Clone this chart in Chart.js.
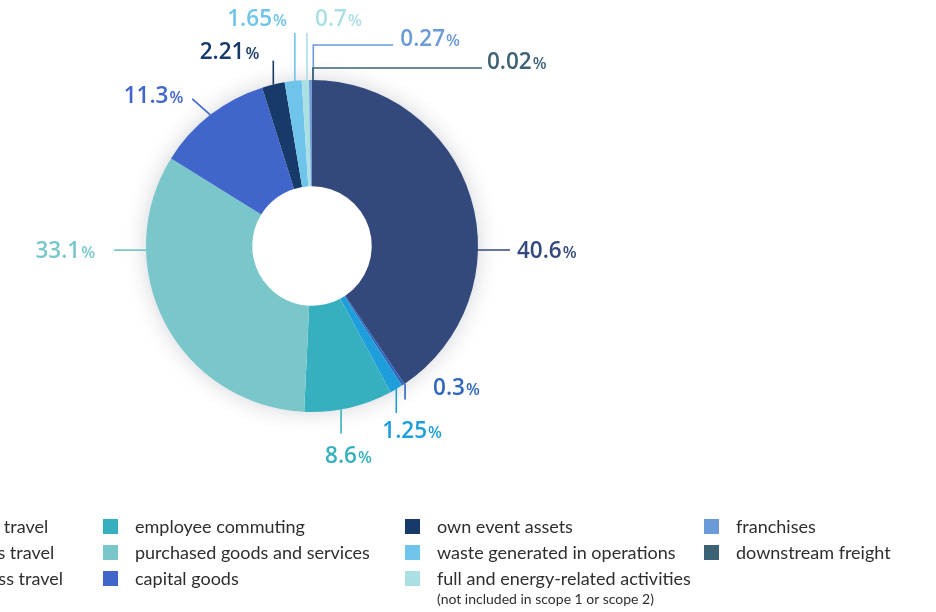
<!DOCTYPE html>
<html>
<head>
<meta charset="utf-8">
<script src="https://cdn.jsdelivr.net/npm/chart.js@4"></script>
<style>
  html, body { margin: 0; padding: 0; background: #fff; overflow: hidden; }
  #wrap { position: relative; width: 936px; height: 612px; }
  #chart { position: absolute; left: 0; top: 0; }
  #legend {
    position: absolute; left: -201px; top: 513px;
    display: grid; grid-auto-flow: column;
    grid-template-rows: 26px 26px 26px;
    grid-template-columns: 304px 302px 299px 220px;
    font-family: Lato, sans-serif; font-size: 18px; color: #2e2e2e;
  }
  .item { display: flex; align-items: center; height: 26px; white-space: nowrap; }
  .box { width: 15px; height: 15px; margin-right: 17px; flex: none; }
  .txt { position: relative; }
  .note { position: absolute; left: 0; top: calc(100% + 1px); font-size: 14px; }
</style>
</head>
<body>
<div id="wrap">
  <canvas id="chart" width="936" height="612"></canvas>
  <div id="legend"></div>
</div>
<script>
/* ==================== Data ==================== */
const categories = [
    'visitors\u2019 and attendee travel',
    'crews and contractors travel',
    'staff and crew business travel',
    'employee commuting',
    'purchased goods and services',
    'capital goods',
    'own event assets',
    'waste generated in operations',
    'full and energy-related activities',
    'franchises',
    'downstream freight'
];
const shares = [40.6, 0.3, 1.25, 8.6, 33.1, 11.3, 2.21, 1.65, 0.7, 0.27, 0.02];
const colors = [
    '#34497B', '#2F66BF', '#1E9FDC', '#36B0BF', '#79C7CA', '#4065CB',
    '#173A6A', '#6EC4EA', '#AADFE4', '#6B9AD8', '#3E6275'
];
const notes = ['', '', '', '', '', '', '', '', '(not included in scope 1 or scope 2)', '', ''];

/* ==================== Label leaders (layout only) ==================== */
// shift: degrees added to the slice mid-angle for the leader start
// path: relative leader segments, lbl: label offset from leader end
const LEADERS = [
    { shift: 18.3, path: [[32, 0]],             lbl: [7, 0],    align: 'left' },
    { shift: -0.8, path: [[0, 16]],             lbl: [28, -12], align: 'left' },
    { shift: 0,    path: [[0, 24]],             lbl: [-14, 17], align: 'left' },
    { shift: 2.7,  path: [[0, 24]],             lbl: [-16, 22], align: 'left' },
    { shift: 26.3, path: [[-32, 0]],            lbl: [-19, 0],  align: 'right' },
    { shift: 0,    path: [[-18, -16]],          lbl: [-9, -4],  align: 'right' },
    { shift: 0,    path: [[0, -24]],            lbl: [-14, -10], align: 'right' },
    { shift: 0.6,  path: [[0, -48]],            lbl: [-8, -15], align: 'right' },
    { shift: 0.6,  path: [[0, -47]],            lbl: [8, -15],  align: 'left' },
    { shift: 1.0,  path: [[0, -35], [80, 0]],   lbl: [7, -7],   align: 'left' },
    { shift: 0.35, path: [[0, -12], [169, 0]],  lbl: [5, -7],   align: 'left' }
];

const NUM_FONT = '600 22.5px "Open Sans"';
const PCT_FONT = '600 16px "Open Sans"';

/* ==================== Plugins ==================== */
const discShadow = {
    id: 'discShadow',
    beforeDatasetsDraw(chart) {
        const arc = chart.getDatasetMeta(0).data[0];
        if (!arc) return;
        const ctx = chart.ctx;
        ctx.save();
        ctx.shadowColor = 'rgba(30, 40, 70, 0.22)';
        ctx.shadowBlur = 22;
        ctx.fillStyle = '#fff';
        ctx.beginPath();
        ctx.arc(arc.x, arc.y, arc.outerRadius - 1, 0, Math.PI * 2);
        ctx.fill();
        ctx.restore();
    }
};

function drawPct(ctx, text, x, y, align, color) {
    ctx.font = NUM_FONT;
    const w1 = ctx.measureText(text).width;
    ctx.font = PCT_FONT;
    const w2 = ctx.measureText('%').width;
    const left = align === 'right' ? x - w1 - w2 - 1 : x;
    const base = y + 8;
    ctx.fillStyle = color;
    ctx.textAlign = 'left';
    ctx.textBaseline = 'alphabetic';
    ctx.font = NUM_FONT;
    ctx.fillText(text, left, base);
    ctx.font = PCT_FONT;
    ctx.fillText('%', left + w1 + 1, base);
}

const leaderLabels = {
    id: 'leaderLabels',
    afterDatasetsDraw(chart) {
        const ctx = chart.ctx;
        const arcs = chart.getDatasetMeta(0).data;
        arcs.forEach((arc, i) => {
            const cfg = LEADERS[i];
            const color = colors[i];
            const mid = (arc.startAngle + arc.endAngle) / 2 + cfg.shift * Math.PI / 180;
            let x = arc.x + arc.outerRadius * Math.cos(mid);
            let y = arc.y + arc.outerRadius * Math.sin(mid);

            ctx.save();
            ctx.strokeStyle = color;
            ctx.lineWidth = 1.6;
            ctx.beginPath();
            ctx.moveTo(x, y);
            cfg.path.forEach(([dx, dy]) => {
                x += dx;
                y += dy;
                ctx.lineTo(x, y);
            });
            ctx.stroke();
            drawPct(ctx, String(shares[i]), x + cfg.lbl[0], y + cfg.lbl[1], cfg.align, color);
            ctx.restore();
        });
    }
};

/* ==================== Chart ==================== */
const chart = new Chart(document.getElementById('chart'), {
    type: 'doughnut',
    data: {
        labels: categories,
        datasets: [{
            data: shares,
            backgroundColor: colors,
            borderWidth: 0,
            hoverOffset: 0
        }]
    },
    options: {
        responsive: false,
        animation: false,
        cutout: '36%',
        layout: { padding: { left: 146, right: 458, top: 80, bottom: 200 } },
        plugins: {
            legend: { display: false },
            tooltip: { enabled: false }
        }
    },
    plugins: [discShadow, leaderLabels]
});

/* ==================== HTML Legend ==================== */
const legendEl = document.getElementById('legend');
chart.data.labels.forEach((label, i) => {
    const item = document.createElement('div');
    item.className = 'item';
    const box = document.createElement('span');
    box.className = 'box';
    box.style.background = chart.data.datasets[0].backgroundColor[i];
    const txt = document.createElement('span');
    txt.className = 'txt';
    txt.textContent = label;
    if (notes[i]) {
        const note = document.createElement('span');
        note.className = 'note';
        note.textContent = notes[i];
        txt.appendChild(note);
    }
    item.appendChild(box);
    item.appendChild(txt);
    legendEl.appendChild(item);
});
</script>
</body>
</html>
